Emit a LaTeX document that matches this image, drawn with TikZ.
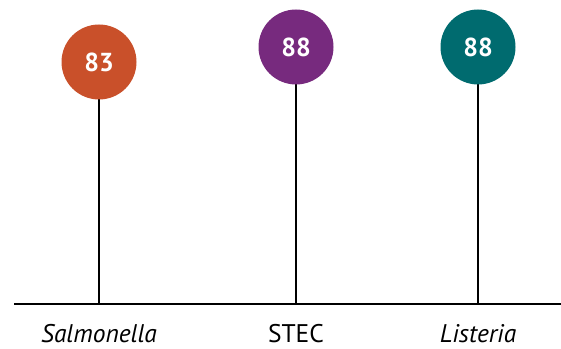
\documentclass[tikz,border=0pt]{standalone}
\usepackage{fontspec}
\setmainfont{PT Sans}
\definecolor{corange}{HTML}{C9502A}
\definecolor{cpurple}{HTML}{772A7E}
\definecolor{cteal}{HTML}{006B6F}
\begin{document}
\begin{tikzpicture}[x=1pt,y=1pt,
  dot/.style={circle,minimum size=75pt,inner sep=0pt,text=white,font=\fontsize{26}{28}\selectfont\bfseries},
  stem/.style={line width=1.6pt,black},
  lbl/.style={anchor=base,font=\fontsize{25.5}{28}\selectfont}]
\useasboundingbox (0,0) rectangle (561,348);
\coordinate (b0) at (14,44);
\coordinate (b1) at (561,44);
\draw[line width=1.6pt] (b0) -- (b1);
\coordinate (f1) at (99,44);
\coordinate (f2) at (296,44);
\coordinate (f3) at (478,44);
\draw[stem] (f1) -- (99,286);
\draw[stem] (f2) -- (296,301);
\draw[stem] (f3) -- (478,301);
\node[dot,fill=corange] (c1) at (99,286) {83};
\node[dot,fill=cpurple] (c2) at (296,301) {88};
\node[dot,fill=cteal] (c3) at (478,301) {88};
\node[lbl] (l1) at (99,6) {\itshape Salmonella};
\node[lbl] (l2) at (296,6) {STEC};
\node[lbl] (l3) at (478,6) {\itshape Listeria};
\end{tikzpicture}
\end{document}
